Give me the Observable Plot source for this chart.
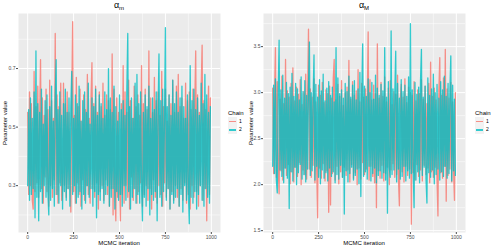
<!DOCTYPE html>
<html><head><meta charset="utf-8">
<script src="https://cdn.jsdelivr.net/npm/d3@7"></script>
<script src="https://cdn.jsdelivr.net/npm/@observablehq/plot@0.6"></script>
<style>
body{margin:0;background:#fff;font-family:"Liberation Sans",Arial,sans-serif;}
#wrap{position:relative;width:494px;height:248px;overflow:hidden;background:#fff;}
.abs{position:absolute;white-space:nowrap;line-height:1;}
.c{transform:translate(-50%,-50%);}
.key{position:absolute;width:9px;height:8.5px;background:#F2F2F2;}
.key i{position:absolute;left:1px;right:1px;top:3.5px;height:1.5px;display:block;opacity:0.8;}
</style></head><body><div id="wrap"></div>
<script>
const chains = ["1", "2"];
const chainColors = ["#F8766D", "#00BFC4"];
const xTicks = [0, 250, 500, 750, 1000];
const xMinor = [125, 375, 625, 875];
const leftTicks = [0.3, 0.5, 0.7];
const leftMinor = [0.2, 0.4, 0.6, 0.8];
const rightTicks = [1.5, 2.0, 2.5, 3.0, 3.5];
const rightMinor = [1.75, 2.25, 2.75, 3.25, 3.75];
const iterStep = 5;

// alpha_m, chain 1 and chain 2 (every 5th iteration)
const am1 = [
0.55,0.27,0.62,0.30,0.58,0.25,0.22,0.69,0.28,0.57,0.31,0.64,0.26,0.52,0.73,0.29,0.60,0.24,0.54,0.33,
0.63,0.28,0.56,0.23,0.66,0.30,0.59,0.26,0.53,0.32,0.82,0.27,0.61,0.24,0.57,0.31,0.65,0.25,0.29,0.65,
0.30,0.58,0.26,0.62,0.29,0.55,0.33,0.21,0.60,0.86,0.28,0.54,0.24,0.67,0.31,0.57,0.27,0.63,0.23,0.52,
0.32,0.61,0.25,0.56,0.30,0.68,0.27,0.53,0.24,0.60,0.72,0.29,0.58,0.26,0.64,0.31,0.55,0.22,0.62,0.28,
0.57,0.30,0.65,0.25,0.54,0.32,0.61,0.27,0.59,0.23,0.56,0.29,0.75,0.20,0.63,0.28,0.18,0.60,0.26,0.55,
0.31,0.18,0.58,0.27,0.71,0.24,0.62,0.30,0.55,0.26,0.66,0.22,0.59,0.33,0.53,0.25,0.64,0.29,0.57,0.24,
0.61,0.28,0.54,0.31,0.71,0.23,0.58,0.27,0.63,0.30,0.56,0.25,0.76,0.29,0.60,0.22,0.55,0.32,0.67,0.26,
0.59,0.24,0.62,0.30,0.54,0.27,0.69,0.23,0.57,0.31,0.63,0.26,0.52,0.29,0.61,0.22,0.58,0.28,0.66,0.25,
0.55,0.30,0.64,0.26,0.68,0.23,0.57,0.29,0.60,0.25,0.53,0.31,0.65,0.24,0.59,0.27,0.62,0.22,0.56,0.30,
0.63,0.26,0.58,0.76,0.28,0.61,0.23,0.55,0.30,0.64,0.78,0.25,0.59,0.29,0.56,0.18,0.52,0.64,0.27,0.60];
const am2 = [
0.30,0.56,0.25,0.60,0.27,0.53,0.29,0.62,0.19,0.76,0.26,0.58,0.18,0.55,0.28,0.63,0.24,0.51,0.30,0.59,
0.26,0.61,0.28,0.20,0.57,0.25,0.64,0.29,0.52,0.23,0.60,0.73,0.27,0.56,0.24,0.62,0.30,0.54,0.22,0.58,
0.28,0.63,0.25,0.55,0.29,0.60,0.23,0.57,0.69,0.27,0.53,0.30,0.61,0.24,0.58,0.26,0.64,0.28,0.52,0.22,
0.59,0.27,0.62,0.24,0.55,0.30,0.65,0.26,0.51,0.29,0.60,0.23,0.57,0.28,0.63,0.19,0.54,0.27,0.61,0.25,
0.58,0.29,0.53,0.24,0.62,0.27,0.56,0.30,0.70,0.23,0.60,0.26,0.55,0.29,0.64,0.22,0.57,0.28,0.52,0.25,
0.61,0.27,0.56,0.23,0.59,0.30,0.54,0.25,0.63,0.82,0.28,0.57,0.22,0.60,0.26,0.53,0.29,0.65,0.24,0.68,
0.27,0.58,0.24,0.62,0.30,0.18,0.55,0.26,0.61,0.23,0.57,0.29,0.64,0.20,0.53,0.27,0.60,0.25,0.56,0.28,
0.62,0.18,0.55,0.75,0.26,0.59,0.23,0.63,0.28,0.52,0.84,0.25,0.57,0.29,0.61,0.22,0.54,0.27,0.66,0.24,
0.58,0.26,0.62,0.29,0.55,0.23,0.60,0.27,0.64,0.21,0.57,0.30,0.53,0.25,0.61,0.28,0.17,0.71,0.26,0.59,
0.24,0.63,0.28,0.56,0.22,0.60,0.27,0.54,0.30,0.65,0.25,0.58,0.23,0.68,0.29,0.61,0.26,0.55,0.24,0.57];

// alpha_M, chain 1 and chain 2 (every 5th iteration)
const aM1 = [
3.05,2.12,2.96,3.49,2.08,3.12,2.20,1.90,2.93,2.15,3.18,2.05,2.88,2.18,3.36,2.10,3.02,2.22,2.95,2.01,
3.10,2.14,3.27,2.03,2.91,2.19,3.06,2.09,2.98,2.24,3.14,2.00,2.87,2.16,3.01,2.11,3.20,2.06,2.92,3.69,
2.17,3.04,2.08,2.95,2.21,3.15,2.02,2.90,2.13,1.64,3.08,2.18,2.97,2.07,3.11,2.23,2.89,2.04,3.03,2.15,
2.99,1.70,3.07,1.78,2.94,2.12,3.16,3.36,2.05,2.92,2.20,3.09,2.01,2.96,2.14,3.13,2.08,2.86,2.19,3.00,
2.10,3.06,2.16,3.35,2.03,2.93,2.22,3.12,2.07,2.97,2.13,3.02,2.00,3.25,2.18,2.90,2.06,3.10,2.24,2.95,
2.11,3.04,2.17,2.88,3.66,2.05,3.14,2.20,2.92,2.09,3.08,2.02,2.99,1.75,3.53,2.15,2.94,2.07,3.11,2.21,
2.96,2.04,3.17,2.12,2.90,2.19,3.05,2.00,3.13,2.16,2.87,2.23,3.01,2.08,2.98,2.11,3.19,2.06,1.77,2.93,
3.09,2.14,2.95,2.03,3.15,2.20,2.89,2.10,3.06,2.17,3.00,1.57,2.97,2.13,3.12,2.05,2.91,2.22,3.03,2.09,
2.99,2.16,3.14,2.04,2.93,2.21,3.07,2.11,2.88,2.18,3.10,2.02,3.33,2.14,2.96,2.08,3.05,2.19,2.92,2.06,
1.66,3.02,3.38,2.13,2.97,2.07,3.16,2.20,3.47,1.82,3.04,2.10,2.94,2.17,3.11,2.03,2.90,2.15,1.83,3.00];
const aM2 = [
2.20,3.08,2.12,3.15,2.05,1.91,2.98,3.57,2.16,3.03,2.09,3.19,2.02,2.94,2.18,3.11,2.07,2.99,1.74,3.06,
2.14,3.21,2.04,2.96,2.19,3.10,2.00,3.04,2.13,2.92,2.22,3.17,2.06,3.01,2.11,3.13,2.03,2.97,2.17,3.07,
3.55,2.10,3.00,2.15,2.93,3.41,2.05,3.09,2.20,2.95,2.08,3.14,2.01,3.02,2.16,3.20,2.07,2.91,2.13,3.05,
2.04,3.12,2.18,2.97,2.09,3.06,2.14,2.90,2.02,3.49,2.11,3.16,2.06,2.99,2.21,3.03,2.08,2.94,1.68,3.10,
2.15,3.01,2.03,3.18,2.12,2.95,2.19,3.08,2.05,3.13,2.10,2.92,2.17,3.04,2.01,3.22,1.87,2.98,3.53,2.09,
3.07,2.14,2.96,2.06,3.15,2.20,3.00,2.04,3.11,2.12,2.93,2.18,3.19,2.02,3.05,2.10,2.97,2.15,3.09,2.07,
3.02,2.13,3.49,2.05,2.95,1.69,3.12,2.19,2.08,3.67,2.11,3.04,2.16,2.99,3.45,2.03,3.10,2.17,2.94,2.06,
3.14,2.09,3.01,2.20,3.08,2.04,2.96,2.15,3.17,2.07,3.75,2.12,3.03,2.18,1.75,3.11,2.05,2.98,2.14,3.06,
2.02,3.13,3.47,2.10,2.95,2.19,3.07,2.06,1.80,3.16,2.13,2.97,2.08,3.04,2.16,3.20,2.01,3.00,2.11,3.09,
2.17,2.94,2.05,3.12,2.14,3.03,2.09,3.18,2.20,2.96,2.07,3.10,2.12,3.01,3.40,2.04,3.08,2.15,2.93,2.10];

const FONT = '"Liberation Sans", Arial, sans-serif';

function panel(s1, s2, yDomain, yTicks, yMinor, fmt, marginLeft, width) {
  const rows = [];
  [s1, s2].forEach((s, k) => s.forEach((v, i) => rows.push({iter: i * iterStep, value: v, chain: chains[k]})));
  return Plot.plot({
    width, height: 248,
    marginLeft, marginRight: 2, marginTop: 13, marginBottom: 16,
    x: {domain: [-50, 1050]},
    y: {domain: yDomain},
    color: {domain: chains, range: chainColors},
    style: {fontSize: "5px", fontFamily: FONT, color: "#4d4d4d", background: "transparent", overflow: "visible"},
    marks: [
      Plot.frame({fill: "#EBEBEB", stroke: "none"}),
      Plot.ruleY(yMinor, {stroke: "#fff", strokeWidth: 0.5}),
      Plot.ruleX(xMinor, {stroke: "#fff", strokeWidth: 0.5}),
      Plot.ruleY(yTicks, {stroke: "#fff", strokeWidth: 1}),
      Plot.ruleX(xTicks, {stroke: "#fff", strokeWidth: 1}),
      Plot.lineY(rows, {x: "iter", y: "value", stroke: "chain", z: "chain", strokeWidth: 1.3, strokeOpacity: 0.8}),
      Plot.axisX({ticks: xTicks, tickSize: 2, tickPadding: 1, label: null, tickFormat: d => String(d)}),
      Plot.axisY({ticks: yTicks, tickSize: 2, tickPadding: 1, label: null, tickFormat: fmt})
    ]
  });
}

const wrap = document.getElementById("wrap");
const left = panel(am1, am2, [0.14, 0.888], leftTicks, leftMinor, d3.format(".1f"), 18, 222);
left.style.position = "absolute"; left.style.left = "0px"; left.style.top = "0px";
wrap.appendChild(left);
const right = panel(aM1, aM2, [1.48, 3.86], rightTicks, rightMinor, d3.format(".1f"), 16, 220);
right.style.position = "absolute"; right.style.left = "247px"; right.style.top = "0px";
wrap.appendChild(right);

function addText(html, x, y, size, extra) {
  const d = document.createElement("div");
  d.className = "abs c";
  d.style.left = x + "px"; d.style.top = y + "px";
  d.style.fontSize = size + "px"; d.style.color = "#000";
  if (extra) d.style.transform = "translate(-50%,-50%) " + extra;
  d.innerHTML = html;
  wrap.appendChild(d);
  return d;
}
addText('α<sub style="font-size:6px;vertical-align:-2px">m</sub>', 119, 6, 9);
addText('α<sub style="font-size:6px;vertical-align:-2px">M</sub>', 364, 6, 9);
addText("MCMC iteration", 119, 243, 6);
addText("MCMC iteration", 364, 243, 6);
addText("Parameter value", 5, 123, 6, "rotate(-90deg)");
addText("Parameter value", 251, 123, 6, "rotate(-90deg)");

function legend(x0) {
  const t = document.createElement("div");
  t.className = "abs"; t.style.left = x0 + "px"; t.style.top = "110px"; t.style.fontSize = "6px";
  t.textContent = "Chain";
  wrap.appendChild(t);
  chains.forEach((c, k) => {
    const key = document.createElement("div");
    key.className = "key";
    key.style.left = x0 + "px"; key.style.top = (117 + k * 8.5) + "px";
    const ln = document.createElement("i"); ln.style.background = chainColors[k];
    key.appendChild(ln); wrap.appendChild(key);
    const lab = document.createElement("div");
    lab.className = "abs"; lab.style.left = (x0 + 11) + "px"; lab.style.top = (118.5 + k * 8.5) + "px";
    lab.style.fontSize = "5px"; lab.textContent = c;
    wrap.appendChild(lab);
  });
}
legend(228);
legend(475);
</script></body></html>
